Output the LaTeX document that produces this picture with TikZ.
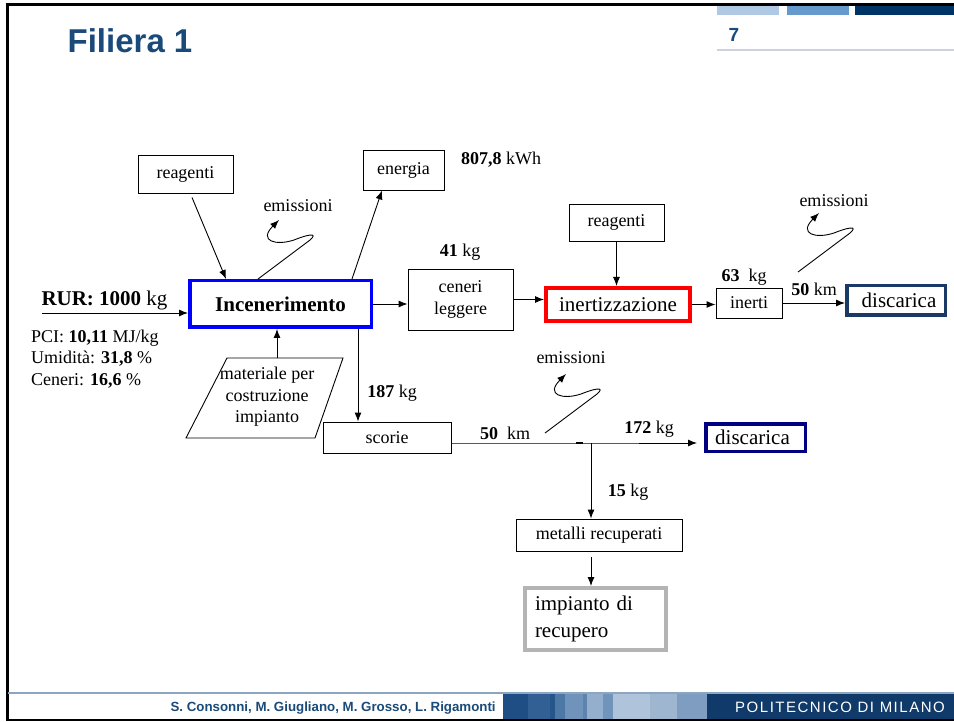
\documentclass[tikz,border=0pt]{standalone}
\usepackage{fontspec}
\setmainfont{Liberation Serif}
\setsansfont{Liberation Sans}
\usetikzlibrary{arrows.meta}

\definecolor{titleblue}{RGB}{26,74,122}
\definecolor{barlight}{RGB}{175,200,227}
\definecolor{barmid}{RGB}{102,153,204}
\definecolor{bardark}{RGB}{0,51,102}
\definecolor{lightrule}{RGB}{200,211,223}
\definecolor{footrule}{RGB}{140,165,192}
\definecolor{discone}{RGB}{24,58,100}
\definecolor{disctwo}{RGB}{0,0,128}
\definecolor{plantgray}{RGB}{180,180,180}
\definecolor{sa}{RGB}{31,78,132}
\definecolor{sb}{RGB}{50,95,148}
\definecolor{sc}{RGB}{38,85,138}
\definecolor{sd}{RGB}{77,120,166}
\definecolor{se}{RGB}{111,147,186}
\definecolor{sf}{RGB}{94,132,174}
\definecolor{sg}{RGB}{147,175,205}
\definecolor{sh}{RGB}{113,148,186}
\definecolor{si}{RGB}{175,196,218}
\definecolor{sj}{RGB}{159,182,208}
\definecolor{sk}{RGB}{127,157,192}
\definecolor{sl}{RGB}{15,58,106}

\newcommand{\smtxt}{\fontsize{18}{21.5}\selectfont}
\newcommand{\bigtxt}{\fontsize{21}{27}\selectfont}
% emission squiggle, drawn from a named start point
\newcommand{\emis}[1]{\draw[->,line width=0.9pt,shift={(#1)}] (0,0) -- (48,-36)
  .. controls (61,-45) and (56,-47) .. (36,-39)
  .. controls (18,-33) and (0,-38) .. (21,-59);}

\begin{document}
\begin{tikzpicture}[x=1pt,y=-1pt,>={Latex[length=9pt,width=7pt]},
  box/.style={draw,line width=0.9pt,inner sep=0pt,align=center},
  flow/.style={->,line width=0.9pt},
  qty/.style={inner sep=0pt}]
	\tikzstyle{every node}=[font=\smtxt]
	\useasboundingbox (0,0) rectangle (954,722);
	\fill[white] (0,0) rectangle (954,722);

	% slide frame and header
	\fill[barlight] (717,6) rectangle (779,15);
	\fill[barmid] (787,6) rectangle (849,15);
	\fill[bardark] (855,6) rectangle (954,15);
	\draw[line width=2.5pt] (5.5,4.5) -- (954,4.5);
	\draw[line width=3pt] (7,3) -- (7,721);
	\draw[line width=2pt] (7,720) -- (954,720);
	\draw[line width=2pt,lightrule] (717,50) -- (954,50);
	\node (page) at (734,35) [font=\sffamily\bfseries\fontsize{19}{19}\selectfont,text=titleblue] {7};
	\node (title) at (130,41) [font=\sffamily\bfseries\fontsize{33}{33}\selectfont,text=titleblue] {Filiera 1};

	% footer
	\draw[line width=2pt,footrule] (8,693) -- (954,693);
	\foreach \xa/\xb/\col in {503/528/sa,528/550/sb,550/555/sc,555/565/sd,565/583/se,583/587/sf,
	  587/603/sg,603/613/sh,613/650/si,650/677/sj,677/707/sk,707/954/sl}
	  \fill[\col] (\xa,694) rectangle (\xb,719);
	\node (authors) at (167,708) [anchor=west,font=\sffamily\bfseries\fontsize{13.3}{13.3}\selectfont,text=titleblue] {S. Consonni, M. Giugliano, M. Grosso, L. Rigamonti};
	\node (polimi) at (840,707) [font=\sffamily\fontsize{15}{15}\selectfont\addfontfeature{LetterSpace=10},text=white] {POLITECNICO DI MILANO};

	% process boxes
	\node (reag1) at (185.5,174) [box,minimum width=95,minimum height=38] {reagenti};
	\node (energia) at (403.5,170) [box,minimum width=81,minimum height=40] {energia};
	\node (incen) at (280.5,304) [box,draw=blue,line width=3.5pt,minimum width=181.5,minimum height=46.5,font=\bigtxt\bfseries] {Incenerimento};
	\node (ceneri) at (460.5,299.5) [box,minimum width=105,minimum height=61] {ceneri\\leggere};
	\node (reag2) at (616.5,222.5) [box,minimum width=95,minimum height=37] {reagenti};
	\node (inert) at (618,304.5) [box,draw=red,line width=4pt,minimum width=144,minimum height=33,font=\bigtxt] {inertizzazione};
	\node (inerti) at (749,303) [box,minimum width=66,minimum height=30] {inerti};
	\node (disc1) at (896,300.5) [box,draw=discone,line width=3.5pt,minimum width=98.5,minimum height=29.5,font=\bigtxt] {\hspace{6pt}discarica};
	\node (scorie) at (387,437.5) [box,minimum width=128,minimum height=31] {scorie};
	\node (disc2) at (755.5,437.5) [box,draw=disctwo,line width=3.5pt,minimum width=99.5,minimum height=27.5,font=\bigtxt] {discarica\hspace{6pt}};
	\node (metalli) at (599,535) [box,minimum width=166,minimum height=32] {metalli recuperati};
	\node (impianto) at (595.5,619) [box,draw=plantgray,line width=4pt,text width=121,inner xsep=10,minimum height=62,align=left,font=\bigtxt] {impianto di\\recupero};

	% building material
	\draw[line width=0.9pt] (227,358) -- (343,358) -- (315,438) -- (186,438) -- cycle;
	\node (mat) at (267,397) [align=center,inner sep=0pt] {materiale per\\costruzione\\impianto};
	\coordinate (mattop) at (277,358);

	% quantities
	\node (rurlab) at (104.5,300) [qty,font=\fontsize{21}{21}\selectfont] {\textbf{RUR: 1000} kg};
	\node (props) at (31,359) [qty,anchor=west,align=left] {PCI: \textbf{10,11} MJ/kg\\Umidità: \textbf{31,8} \%\\Ceneri: \textbf{16,6} \%};
	\node (kwh) at (501,160) [qty] {\textbf{807,8} kWh};
	\node (kg41) at (460,252) [qty] {\textbf{41} kg};
	\node (kg63) at (744,277) [qty] {\textbf{63}\ \ kg};
	\node (km50a) at (814,289) [qty] {\textbf{50} km};
	\node (kg187) at (392,393) [qty] {\textbf{187} kg};
	\node (km50b) at (505,433) [qty] {\textbf{50}\ \ km};
	\node (kg172) at (649,429) [qty] {\textbf{172} kg};
	\node (kg15) at (628,492) [qty] {\textbf{15} kg};
	\node (em1) at (298,206) [qty] {emissioni};
	\node (em2) at (571,358) [qty] {emissioni};
	\node (em3) at (834,201) [qty] {emissioni};

	% flows
	\coordinate (rur) at (42,313);
	\coordinate (split) at (591,443);
	\draw[flow] (rur) -- (incen.west |- rur);
	\draw[flow] ([xshift=6.5pt,yshift=-4pt]reag1.south) -- ([xshift=-54.5pt]incen.north);
	\draw[flow] ([xshift=71.5pt]incen.north) -- ([xshift=-21.5pt]energia.south);
	\draw[flow] (mattop) -- (mattop |- incen.south);
	\draw[flow] (incen.east) -- (incen.east -| ceneri.west);
	\draw[flow] (ceneri.east) -- (ceneri.east -| inert.west);
	\draw[flow] (reag2.south) -- (reag2.south |- inert.north);
	\draw[flow] (inert.east) -- (inert.east -| inerti.west);
	\draw[flow] (inerti.east) -- (inerti.east -| disc1.west);
	\draw[flow] ([xshift=77.5pt]incen.south) -- ([xshift=77.5pt]incen.south |- scorie.north);
	\draw[flow] (scorie.east |- split) -- (split) -- ([xshift=-7pt]split -| disc2.west);
	\draw[line width=2pt] (576,443) -- (583,443);
	\draw[flow] (split) -- (split |- metalli.north);
	\draw[flow] ([yshift=-6pt]split |- metalli.south) -- (split |- impianto.north);

	% emissions
	\coordinate (e1) at ([xshift=-22.5pt]incen.north);
	\coordinate (e2) at (545,433);
	\coordinate (e3) at (798,272);
	\emis{e1}
	\emis{e2}
	\emis{e3}
\end{tikzpicture}
\end{document}
